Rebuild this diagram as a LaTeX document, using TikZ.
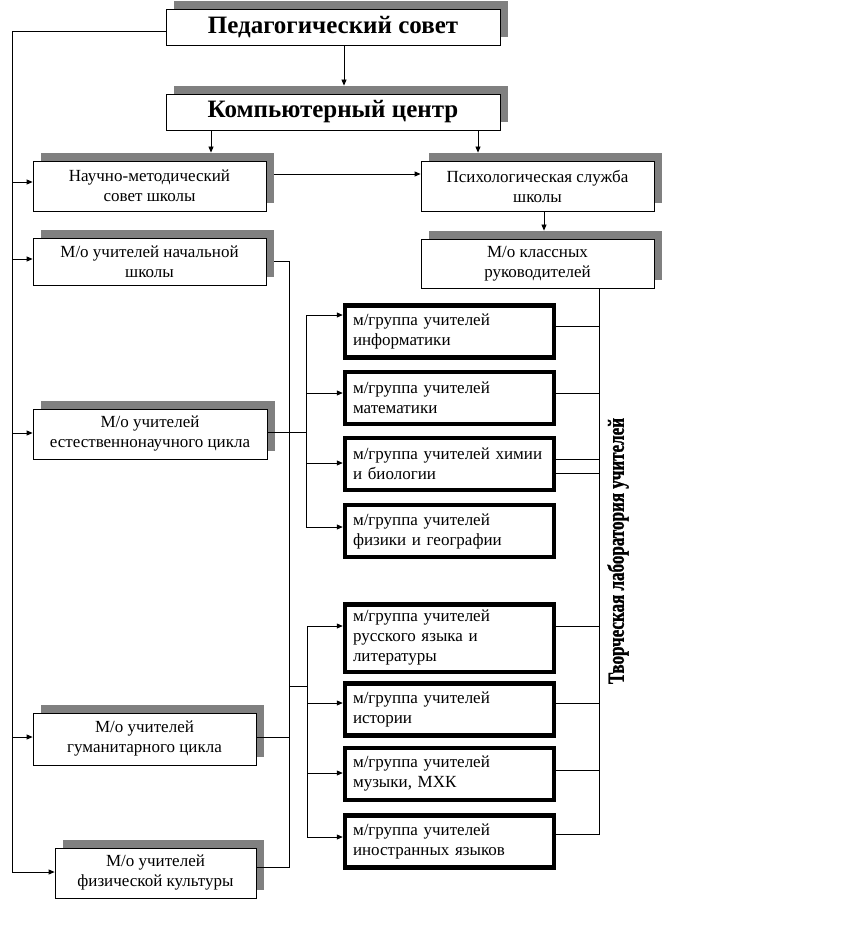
\documentclass[tikz,border=0pt]{standalone}
\usepackage{fontspec}
\setmainfont{Liberation Serif}
\newfontfamily\labfont{Liberation Serif}[BoldFeatures={FakeBold=1.5}]
\usetikzlibrary{arrows.meta,shadows,calc}
\definecolor{shgray}{RGB}{128,128,128}
\begin{document}
\begin{tikzpicture}[x=1pt,y=-1pt,
  line width=0.8pt,
  arr/.style={-{Triangle[length=6pt,width=5pt]}},
  box/.style={draw=black, line width=0.8pt, fill=white, inner sep=0pt, align=center,
    font=\fontsize{17}{20}\selectfont,
    drop shadow={shadow xshift=8pt, shadow yshift=8pt, opacity=1, fill=shgray}},
  tbox/.style={box, minimum width=334pt, minimum height=36pt, font=\fontsize{25}{28}\selectfont\bfseries},
  gbox/.style={draw=black, line width=4.5pt, fill=white, minimum width=209pt, minimum height=52pt,
    inner xsep=8pt, inner ysep=0pt, text width=193pt, align=left, font=\fontsize{17}{20}\selectfont},
  lab/.style={rotate=90, font=\fontsize{23}{26}\labfont\bfseries}
]
\useasboundingbox (0,0) rectangle (846,925);

% top boxes
\node[tbox] (ped) at (333,27) {Педагогический совет};
\node[tbox] (komp) at (333,112) {Компьютерный центр};

% second level
\node[box, minimum width=233pt, minimum height=50pt] (nauch) at (149.5,186) {Научно-методический\\совет школы};
\node[box, minimum width=233pt, minimum height=50pt] (psych) at (537.5,186) {Психологическая служба\\школы};
\node[box, minimum width=233pt, minimum height=49pt] (klass) at (537.5,263.5) {М/о классных\\руководителей};
\node[box, minimum width=233pt, minimum height=47pt] (nach) at (149.5,261.5) {М/о учителей начальной\\школы};
\node[box, minimum width=234pt, minimum height=50pt] (est) at (150,434) {М/о учителей\\естественнонаучного цикла};
\node[box, minimum width=223pt, minimum height=52pt] (gum) at (144.5,739) {М/о учителей\\гуманитарного цикла};
\node[box, minimum width=201pt, minimum height=50pt] (fiz) at (155.5,873) {М/о учителей\\физической культуры};

% group boxes
\node[gbox] (g1) at (449.5,331.5) {м/группа учителей\\информатики};
\node[gbox] (g2) at (449.5,398) {м/группа учителей\\математики};
\node[gbox] (g3) at (449.5,464) {м/группа учителей химии\\и биологии};
\node[gbox] (g4) at (449.5,531) {м/группа учителей\\физики и географии};
\node[gbox, minimum height=67.5pt] (g5) at (449.5,638) {м/группа учителей\\русского языка и\\литературы};
\node[gbox] (g6) at (449.5,709.5) {м/группа учителей\\истории};
\node[gbox] (g7) at (449.5,774) {м/группа учителей\\музыки, МХК};
\node[gbox] (g8) at (449.5,841.5) {м/группа учителей\\иностранных языков};

% vertical label
\node[lab] (vl) at (618,551) {\scalebox{0.74}[1]{Творческая лаборатория учителей}};

% coordinates
\coordinate (lt) at (12,31);
\coordinate (lb) at (12,873);
\coordinate (t1) at (12,182);
\coordinate (t2) at (12,259);
\coordinate (t3) at (12,433);
\coordinate (t4) at (12,737);
\coordinate (t5) at (12,872);
\coordinate (m1) at (289,261);
\coordinate (m2) at (289,867);
\coordinate (m3) at (289,737);
\coordinate (m4) at (289,686);
\coordinate (b1) at (307,432);
\coordinate (b2) at (307,686);
\coordinate (a1) at (306,315);
\coordinate (a2) at (306,393);
\coordinate (a3) at (306,463);
\coordinate (a4) at (306,527);
\coordinate (c1) at (307,626);
\coordinate (c2) at (307,703);
\coordinate (c3) at (307,773);
\coordinate (c4) at (307,837);
\coordinate (rt) at (599,290);
\coordinate (rb) at (599,835);
\coordinate (r1) at (599,326);
\coordinate (r2) at (599,393);
\coordinate (r3) at (599,459);
\coordinate (r4) at (599,473);
\coordinate (r5) at (599,626);
\coordinate (r6) at (599,703);
\coordinate (r7) at (599,770);
\coordinate (r8) at (599,834);
\coordinate (k0) at ($(ped.south)+(11,0)$);
\coordinate (k1) at ($(komp.south)+(-122,0)$);
\coordinate (k2) at ($(komp.south)+(145,0)$);
\coordinate (k3) at ($(psych.south)+(6.5,0)$);

% left trunk
\draw (ped.west |- lt) -- (lt) -- (lb);
\draw[arr] (t1) -- (t1 -| nauch.west);
\draw[arr] (t2) -- (t2 -| nach.west);
\draw[arr] (t3) -- (t3 -| est.west);
\draw[arr] (t4) -- (t4 -| gum.west);
\draw[arr] (t5) -- (t5 -| fiz.west);

% top arrows
\draw[arr] (k0) -- ([yshift=8pt]k0 |- komp.north);
\draw[arr] (k1) -- ([yshift=8pt]k1 |- nauch.north);
\draw[arr] (k2) -- ([yshift=8pt]k2 |- psych.north);
\draw[arr] ($(nauch.east)+(8,-12)$) -- ($(psych.west)+(0,-12)$);
\draw[arr] (k3) -- ([yshift=8pt]k3 |- klass.north);

% middle trunk
\draw ([xshift=8pt]nach.east |- m1) -- (m1) -- (m2) -- (fiz.east |- m2);
\draw (gum.east |- m3) -- (m3);
\draw (est.east |- b1) -- (b1);
\draw (m4) -- (b2);

% branch 1
\draw (a1) -- (a4);
\draw[arr] (a1) -- (a1 -| g1.west);
\draw[arr] (a2) -- (a2 -| g2.west);
\draw[arr] (a3) -- (a3 -| g3.west);
\draw[arr] (a4) -- (a4 -| g4.west);

% branch 2
\draw (c1) -- (c4);
\draw[arr] (c1) -- (c1 -| g5.west);
\draw[arr] (c2) -- (c2 -| g6.west);
\draw[arr] (c3) -- (c3 -| g7.west);
\draw[arr] (c4) -- (c4 -| g8.west);

% right side
\draw (klass.south -| rt) -- (rb);
\draw (r1 -| g1.east) -- (r1);
\draw (r2 -| g2.east) -- (r2);
\draw (r3 -| g3.east) -- (r3);
\draw (r4 -| g3.east) -- (r4);
\draw (r5 -| g5.east) -- (r5);
\draw (r6 -| g6.east) -- (r6);
\draw (r7 -| g7.east) -- (r7);
\draw (r8 -| g8.east) -- (r8);
\end{tikzpicture}
\end{document}
